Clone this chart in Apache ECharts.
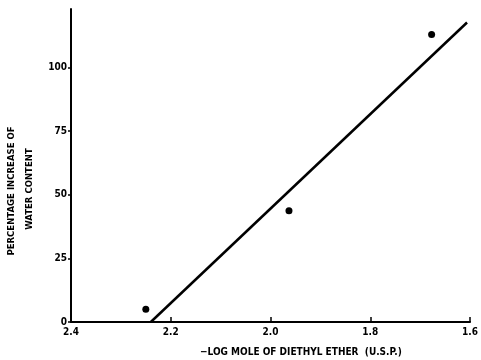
<!DOCTYPE html>
<html><head><meta charset="utf-8">
<script src="https://cdn.jsdelivr.net/npm/echarts@6/dist/echarts.min.js"></script>
<style>html,body{margin:0;padding:0;background:#fff}#c{width:481px;height:360px}</style>
</head><body><div id="c"></div>
<script>
var xTicks = [2.4, 2.2, 2.0, 1.8, 1.6];
var yTicks = [0, 25, 50, 75, 100];
var pointsX = [2.25, 1.963, 1.677];
var pointsY = [5, 43.7, 113];
var fitX = [2.24, 1.606];
var fitY = [0, 117.7];

var font = 'DejaVu Sans Condensed';
var chart = echarts.init(document.getElementById('c'));
chart.setOption({
  animation: false,
  backgroundColor: '#fff',
  grid: {left: 71, right: 9, top: 9, bottom: 38, containLabel: false},
  xAxis: {
    type: 'value', inverse: true, min: 1.6, max: 2.4, interval: 0.2,
    axisLine: {lineStyle: {color: '#000', width: 2}},
    axisTick: {inside: true, length: 5, lineStyle: {color: '#000', width: 1.5}},
    axisLabel: {color: '#000', fontFamily: font, fontWeight: 'bold', fontSize: 10, margin: 5,
      formatter: function(v){ return v.toFixed(1); }},
    splitLine: {show: false}
  },
  yAxis: {
    type: 'value', min: 0, max: 123,
    axisLine: {show: true, lineStyle: {color: '#000', width: 2}},
    axisTick: {show: true, length: 3, customValues: yTicks, lineStyle: {color: '#000', width: 1.5}},
    axisLabel: {color: '#000', fontFamily: font, fontWeight: 'bold', fontSize: 10, margin: 4, customValues: yTicks},
    splitLine: {show: false}
  },
  graphic: [
    {type: 'text', left: 200, top: 347, style: {text: '\u2212LOG MOLE OF DIETHYL ETHER  (U.S.P.)', fill: '#000', font: 'bold 10px "DejaVu Sans Condensed"'}},
    {type: 'text', x: 12, y: 191, rotation: Math.PI/2, style: {text: 'PERCENTAGE INCREASE OF', fill: '#000', font: 'bold 9.5px "DejaVu Sans Condensed"', align: 'center', verticalAlign: 'middle'}},
    {type: 'text', x: 30, y: 189, rotation: Math.PI/2, style: {text: 'WATER CONTENT', fill: '#000', font: 'bold 9.5px "DejaVu Sans Condensed"', align: 'center', verticalAlign: 'middle'}}
  ],
  series: [
    {type: 'line', data: fitX.map(function(x,i){return [x, fitY[i]];}), symbol: 'none',
      lineStyle: {color: '#000', width: 2.5}},
    {type: 'scatter', data: pointsX.map(function(x,i){return [x, pointsY[i]];}), symbolSize: 7,
      itemStyle: {color: '#000', opacity: 1}}
  ]
});
</script></body></html>
